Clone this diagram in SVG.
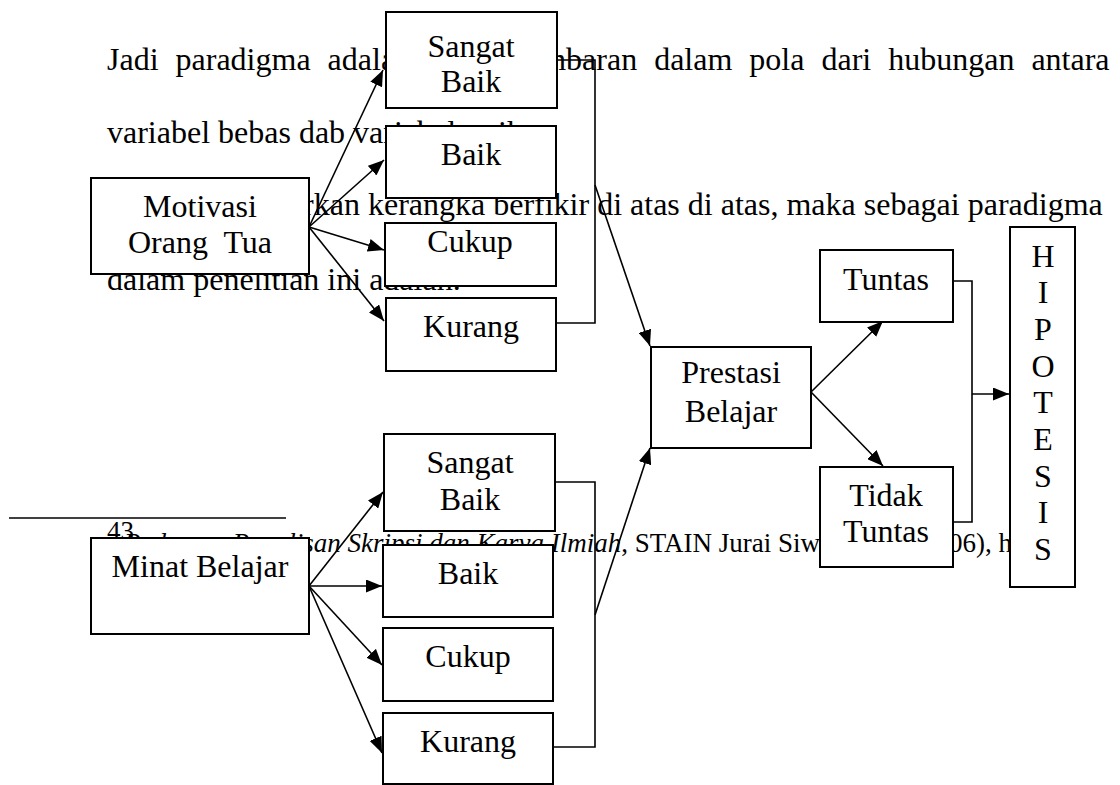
<svg xmlns="http://www.w3.org/2000/svg" width="1120" height="785" viewBox="0 0 1120 785">
<style>
.body{font-family:"Liberation Serif","Times New Roman",serif;font-size:32px;fill:#000}
.fn{font-family:"Liberation Serif","Times New Roman",serif;font-size:27px;fill:#000}
.box{fill:#fff;stroke:#000;stroke-width:2}
.lbl{font-family:"Liberation Serif","Times New Roman",serif;font-size:32px;fill:#000;text-anchor:middle}
.ln{fill:none;stroke:#000;stroke-width:1.6}
.arr{fill:none;stroke:#000;stroke-width:1.6;marker-end:url(#ah)}
</style>
<defs>
<marker id="ah" viewBox="0 0 16 13" refX="16" refY="6.5" markerWidth="16" markerHeight="13" markerUnits="userSpaceOnUse" orient="auto">
<path d="M0,0 L16,6.5 L0,13 z" fill="#000"/>
</marker>
</defs>
<rect width="1120" height="785" fill="#fff"/>
<g id="page-text">
<text class="body" x="107" y="70" word-spacing="9">Jadi paradigma adalah</text>
<text class="body" x="511" y="70" word-spacing="9">gambaran dalam pola dari hubungan antara</text>
<text class="body" x="107" y="143">variabel bebas dab variabel terikat.</text>
<text class="body" x="200" y="215">Berdasarkan kerangka berfikir di atas di atas, maka sebagai paradigma</text>
<text class="body" x="107" y="290">dalam penelitian ini adalah.</text>
<line x1="9" y1="518" x2="286" y2="518" stroke="#000" stroke-width="1.6"/>
<text class="fn" x="107" y="540" font-size="16">43</text>
<text class="fn" x="124" y="552"><tspan font-style="italic">Pedoman Penulisan Skripsi dan Karya Ilmiah</tspan>, STAIN Jurai Siwo Metro (2006), h.</text>
</g>
<g id="connectors">
<line class="arr" x1="309" y1="227" x2="383" y2="70"/>
<line class="arr" x1="309" y1="227" x2="384" y2="160"/>
<line class="arr" x1="309" y1="227" x2="384" y2="250"/>
<line class="arr" x1="309" y1="227" x2="384" y2="321"/>
<polyline class="ln" points="557,60 595,60 595,323 556,323"/>
<line class="arr" x1="595" y1="185" x2="650" y2="346"/>
<line class="arr" x1="309" y1="586" x2="383" y2="492"/>
<line class="arr" x1="309" y1="586" x2="382" y2="586"/>
<line class="arr" x1="309" y1="586" x2="382" y2="665"/>
<line class="arr" x1="309" y1="586" x2="382" y2="753"/>
<polyline class="ln" points="555,482 595,482 595,747 553,747"/>
<line class="arr" x1="595" y1="615" x2="650" y2="448"/>
<line class="arr" x1="811" y1="392" x2="883" y2="321"/>
<line class="arr" x1="811" y1="392" x2="883" y2="466"/>
<polyline class="ln" points="953,281 972,281 972,522 953,522"/>
<line class="arr" x1="972" y1="394" x2="1009" y2="394"/>
</g>
<g id="motivasi"><rect class="box" x="91" y="178" width="218" height="96"/><text class="lbl" x="200" y="217">Motivasi</text><text class="lbl" x="200" y="253" xml:space="preserve">Orang  Tua</text></g>
<g id="m-sangat-baik"><rect class="box" x="386" y="12" width="171" height="96"/><text class="lbl" x="471" y="57">Sangat</text><text class="lbl" x="471" y="92">Baik</text></g>
<g id="m-baik"><rect class="box" x="386" y="126" width="170" height="72"/><text class="lbl" x="471" y="165">Baik</text></g>
<g id="m-cukup"><rect class="box" x="385" y="223" width="171" height="63"/><text class="lbl" x="470" y="252">Cukup</text></g>
<g id="m-kurang"><rect class="box" x="386" y="298" width="170" height="73"/><text class="lbl" x="471" y="337">Kurang</text></g>
<g id="prestasi"><rect class="box" x="651" y="347" width="160" height="101"/><text class="lbl" x="731" y="383">Prestasi</text><text class="lbl" x="731" y="422">Belajar</text></g>
<g id="tuntas"><rect class="box" x="820" y="250" width="133" height="72"/><text class="lbl" x="886" y="290">Tuntas</text></g>
<g id="tidak-tuntas"><rect class="box" x="820" y="467" width="133" height="100"/><text class="lbl" x="886" y="506">Tidak</text><text class="lbl" x="886" y="542">Tuntas</text></g>
<g id="hipotesis"><rect class="box" x="1010" y="227" width="65" height="360"/>
<text class="lbl" x="1043" y="267">H</text><text class="lbl" x="1043" y="303">I</text><text class="lbl" x="1043" y="340">P</text><text class="lbl" x="1043" y="377">O</text><text class="lbl" x="1043" y="413">T</text><text class="lbl" x="1043" y="450">E</text><text class="lbl" x="1043" y="487">S</text><text class="lbl" x="1043" y="523">I</text><text class="lbl" x="1043" y="560">S</text></g>
<g id="b-sangat-baik"><rect class="box" x="384" y="434" width="171" height="97"/><text class="lbl" x="470" y="473">Sangat</text><text class="lbl" x="470" y="510">Baik</text></g>
<g id="minat"><rect class="box" x="91" y="538" width="218" height="96"/><text class="lbl" x="200" y="577">Minat Belajar</text></g>
<g id="b-baik"><rect class="box" x="383" y="545" width="170" height="72"/><text class="lbl" x="468" y="584">Baik</text></g>
<g id="b-cukup"><rect class="box" x="383" y="628" width="170" height="73"/><text class="lbl" x="468" y="667">Cukup</text></g>
<g id="b-kurang"><rect class="box" x="383" y="713" width="170" height="71"/><text class="lbl" x="468" y="752">Kurang</text></g>
</svg>
